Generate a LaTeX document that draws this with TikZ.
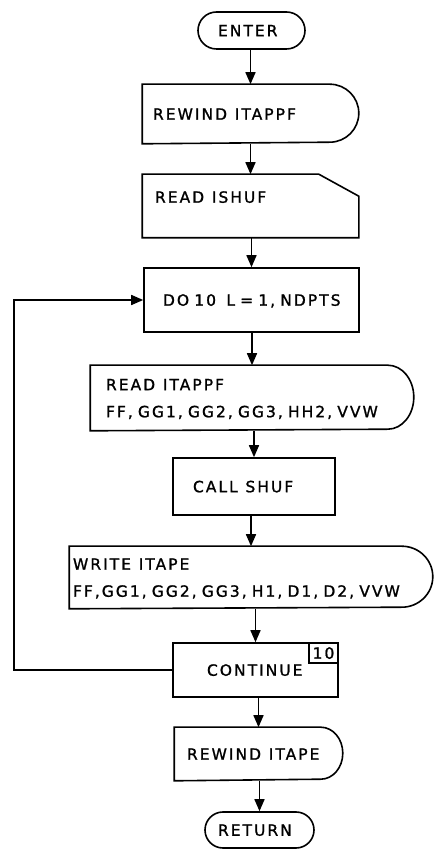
\documentclass[tikz,border=0pt]{standalone}
\usepackage{fontspec}
\setmainfont{DejaVu Sans}[LetterSpace=13,FakeBold=1.2]
\usetikzlibrary{arrows.meta}
\newcommand{\drawDshape}[3]{%
  \draw (#1.north west) -- ([xshift=-#2]#1.north east)
    arc[start angle=90,end angle=-90,x radius=#2,y radius=#3]
    -- (#1.south west) -- cycle;}
\begin{document}
\begin{tikzpicture}[x=1pt,y=1pt,line width=1.6pt,
  font=\fontsize{15.5}{27}\selectfont,
  box/.style={inner sep=0pt,align=left,text height=11.5pt,text depth=0pt},
  twoline/.style={text depth=27pt},
  arr/.style={-{Triangle[length=12pt,width=10pt]}}]
\useasboundingbox (0,0) rectangle (434,852);

% nodes
\node[box,draw,rounded corners=18.5pt,minimum width=107pt,minimum height=37pt,text width=67pt]
  (enter) at (251.5,821.5) {\mbox{ENTER}};
\node[box,minimum width=215pt,minimum height=58pt,text width=195pt]
  (rw1) at (250.5,738) {\mbox{REWIND\, ITAPPF}};
\node[box,minimum width=215pt,minimum height=62pt,text width=191pt,text depth=18pt]
  (rish) at (250.5,646) {\mbox{READ\, ISHUF}};
\node[box,draw,minimum width=215pt,minimum height=64pt,text width=177pt]
  (do) at (251.5,552) {\mbox{DO 10~~L = 1, NDPTS}};
\node[box,twoline,minimum width=322pt,minimum height=64pt,text width=292pt]
  (rit) at (252,454) {\mbox{READ\, ITAPPF}\\\mbox{FF, GG1, GG2, GG3, HH2, VVW}};
\node[box,draw,minimum width=162pt,minimum height=57pt,text width=122pt]
  (call) at (254,365.5) {\mbox{CALL\, SHUF}};
\node[box,twoline,minimum width=362pt,minimum height=61pt,text width=356pt]
  (wit) at (251,274.5) {\mbox{WRITE\, ITAPE}\\\mbox{FF,GG1, GG2, GG3, H1, D1, D2, VVW}};
\node[box,draw,minimum width=165pt,minimum height=54pt,text width=97pt]
  (cont) at (255.5,182) {\mbox{CONTINUE}};
\node[box,draw,anchor=north east,minimum width=29pt,minimum height=20pt,align=center]
  (lab) at (cont.north east) {10};
\node[box,minimum width=167pt,minimum height=52pt,text width=143pt]
  (rw2) at (258.5,98) {\mbox{REWIND\, ITAPE}};
\node[box,draw,rounded corners=18pt,minimum width=109pt,minimum height=36pt,text width=83pt]
  (ret) at (259.5,22) {\mbox{RETURN}};

% outlines of special shapes
\drawDshape{rw1}{29pt}{29pt}
\draw (rish.south west) -- (rish.north west) -- ([xshift=-40pt]rish.north east)
  -- ([yshift=-22pt]rish.north east) -- (rish.south east) -- cycle;
\drawDshape{rit}{26pt}{32pt}
\drawDshape{wit}{31pt}{30.5pt}
\drawDshape{rw2}{22pt}{26pt}

% connectors
\draw[arr] (enter.south -| rw1.north) -- (rw1.north);
\draw[arr] (rw1.south -| rish.north) -- (rish.north);
\draw[arr] (rish.south -| do.north) -- (do.north);
\draw[arr] (do.south -| rit.north) -- (rit.north);
\draw[arr] (rit.south -| call.north) -- (call.north);
\draw[arr] (call.south -| wit.north) -- (wit.north);
\draw[arr] (wit.south -| cont.north) -- (cont.north);
\draw[arr] (cont.south -| rw2.north) -- (rw2.north);
\draw[arr] (rw2.south -| ret.north) -- (ret.north);
\coordinate (lp) at (14,182);
\draw[arr] (cont.west) -- (lp) |- (do.west);
\end{tikzpicture}
\end{document}
